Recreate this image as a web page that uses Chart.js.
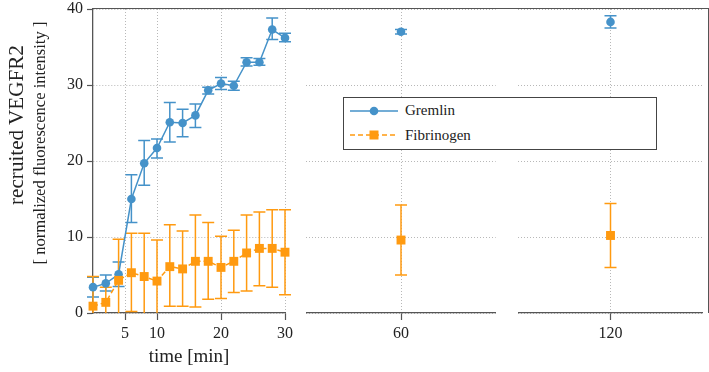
<!DOCTYPE html>
<html>
<head>
<meta charset="utf-8">
<script src="https://cdn.jsdelivr.net/npm/chart.js@4.4.0/dist/chart.umd.min.js"></script>
<style>
  html, body { margin: 0; padding: 0; background: #fff; }
  #wrap { position: relative; width: 709px; height: 372px; overflow: hidden;
          font-family: "Liberation Serif", "DejaVu Serif", serif; color: #222; }
  #wrap canvas { position: absolute; top: 0; }
  #c1 { left: 0; }
  #c2 { left: 300px; }
  #c3 { left: 512px; }
  #frame { position: absolute; left: 93px; top: 8.4px; width: 615.7px; height: 305px; box-sizing: border-box;
           border-top: 1.3px solid #555; border-right: 1.3px solid #555; pointer-events: none; }
  .ylab { position: absolute; white-space: nowrap; line-height: 1.1; transform-origin: center;
          transform: translate(-50%, -50%) rotate(-90deg); }
  #legend { position: absolute; left: 343px; top: 97px; width: 314px; height: 53px; box-sizing: border-box;
            border: 1.3px solid #444; background: #fff; }
  .row { position: absolute; left: 6px; height: 20px; display: flex; align-items: center;
         font-family: "Liberation Serif", serif; font-size: 15px; }
  .row svg { margin-right: 7px; }
</style>
</head>
<body>
<div id="wrap">
  <canvas id="c1" width="300" height="372"></canvas>
  <canvas id="c2" width="202" height="372"></canvas>
  <canvas id="c3" width="197" height="372"></canvas>
  <div id="frame"></div>
  <div class="ylab" id="ylab1" style="left:17px; top:125px; font-size:17px;"></div>
  <div class="ylab" id="ylab2" style="left:40px; top:143px; font-size:16.5px;"></div>
  <div id="legend"></div>
</div>
<script>
// series names and axis labels
const seriesNames = ['Gremlin', 'Fibrinogen'];
const yTitle = ['recruited VEGFR2', '[ normalized fluorescence intensity ]'];
const xTitle = 'time [min]';

// first panel: 0 - 30 min
const timesEarly = [0, 2, 4, 6, 8, 10, 12, 14, 16, 18, 20, 22, 24, 26, 28, 30];
const gremlinMean = [3.4, 3.9, 5.1, 15.0, 19.7, 21.7, 25.1, 25.0, 26.0, 29.3, 30.2, 29.9, 33.0, 33.0, 37.3, 36.2];
const gremlinLow  = [2.1, 2.9, 3.5, 11.9, 16.8, 20.4, 22.5, 23.2, 24.4, 28.8, 29.4, 29.3, 32.5, 32.6, 36.0, 35.7];
const gremlinHigh = [4.7, 5.0, 6.7, 18.2, 22.7, 22.9, 27.7, 26.8, 27.5, 29.7, 31.0, 30.5, 33.6, 33.5, 38.8, 36.8];
const fibMean = [0.9, 1.4, 4.3, 5.3, 4.8, 4.2, 6.1, 5.8, 6.8, 6.8, 6.0, 6.8, 7.9, 8.5, 8.5, 8.0];
const fibLow  = [-3.0, -0.6, -1.1, 0.2, -0.9, -1.2, 0.9, 0.9, 0.8, 1.8, 1.9, 2.7, 2.9, 3.6, 3.4, 2.4];
const fibHigh = [4.8, 3.4, 9.7, 10.5, 10.5, 9.6, 11.6, 10.8, 12.9, 11.9, 10.1, 10.9, 12.9, 13.3, 13.6, 13.6];

// later panels: 60 and 120 min
const timesLate = [60, 120];
const gremlinLateMean = [37.0, 38.3];
const gremlinLateLow  = [36.7, 37.5];
const gremlinLateHigh = [37.3, 39.1];
const fibLateMean = [9.6, 10.2];
const fibLateLow  = [5.0, 6.0];
const fibLateHigh = [14.2, 14.4];

// axis ticks
const yTicks = [0, 10, 20, 30, 40];
const xTicksEarly = [5, 10, 20, 30];

const blue = '#4592c9';
const orange = '#ff9a10';
const gridColor = '#b8b8b8';
const spineColor = '#555';
const font = { family: '"Liberation Serif", "DejaVu Serif", serif', size: 16 };

// draws vertical error bars with caps, using the chart's own scales
const errorBars = {
  id: 'errorBars',
  beforeDatasetsDraw(chart) {
    const { ctx, chartArea, scales } = chart;
    const x = scales.x, y = scales.y;
    ctx.save();
    ctx.beginPath();
    ctx.rect(chartArea.left - 20, chartArea.top, chartArea.width + 40, chartArea.height);
    ctx.clip();
    chart.data.datasets.forEach(ds => {
      if (!ds.errLow) return;
      ctx.strokeStyle = ds.borderColor;
      ctx.lineWidth = 1.5;
      ctx.setLineDash([]);
      ds.data.forEach((p, j) => {
        const px = x.getPixelForValue(p.x);
        const lo = y.getPixelForValue(ds.errLow[j]);
        const hi = y.getPixelForValue(ds.errHigh[j]);
        ctx.beginPath();
        ctx.moveTo(px, lo); ctx.lineTo(px, hi);
        ctx.moveTo(px - 6, lo); ctx.lineTo(px + 6, lo);
        ctx.moveTo(px - 6, hi); ctx.lineTo(px + 6, hi);
        ctx.stroke();
      });
    });
    ctx.restore();
  }
};

function points(times, vals) {
  return times.map((t, i) => ({ x: t, y: vals[i] }));
}

function makeDatasets(times, gm, gl, gh, fm, fl, fh) {
  return [
    {
      label: seriesNames[0], data: points(times, gm), errLow: gl, errHigh: gh,
      borderColor: blue, backgroundColor: blue, borderWidth: 1.5,
      pointStyle: 'circle', pointRadius: 4.3, pointBorderWidth: 0, pointBackgroundColor: blue,
      clip: false, order: 1
    },
    {
      label: seriesNames[1], data: points(times, fm), errLow: fl, errHigh: fh,
      borderColor: orange, backgroundColor: orange, borderWidth: 1.5, borderDash: [5, 3],
      pointStyle: 'rect', pointRadius: 6.3, pointBorderWidth: 0, pointBackgroundColor: orange,
      clip: false, order: 0
    }
  ];
}

function xAxis(min, max, ticks, title) {
  return {
    type: 'linear', min, max,
    afterBuildTicks: s => { s.ticks = ticks.map(v => ({ value: v })); },
    afterFit: s => { s.height = 59; s.paddingLeft = 0; s.paddingRight = 0; },
    ticks: { font, color: '#222', padding: 4, maxRotation: 0 },
    grid: { color: gridColor, lineWidth: 1, tickColor: spineColor, tickLength: 7, tickWidth: 1.2 },
    border: { display: true, color: spineColor, width: 1.3, dash: [1, 2] },
    title: title
      ? { display: true, text: title, font: { ...font, size: 19 }, color: '#222', padding: { top: 0, bottom: 4 } }
      : { display: false }
  };
}

function yAxis(showLabels) {
  return {
    type: 'linear', min: 0, max: 40,
    afterBuildTicks: s => { s.ticks = yTicks.map(v => ({ value: v })); },
    afterFit: s => { s.width = showLabels ? 93 : 0; s.paddingTop = 0; s.paddingBottom = 0; },
    ticks: { display: showLabels, font, color: '#222', padding: 4 },
    grid: { color: gridColor, lineWidth: 1, tickColor: spineColor, tickLength: 6, tickWidth: 1.2, drawTicks: showLabels },
    border: { display: showLabels, color: spineColor, width: 1.3, dash: [1, 2] }
  };
}

function makePanel(id, datasets, x, padding) {
  return new Chart(document.getElementById(id), {
    type: 'line',
    data: { datasets },
    options: {
      responsive: false,
      animation: false,
      layout: { padding },
      scales: { x, y: yAxis(id === 'c1') },
      plugins: { legend: { display: false }, tooltip: { enabled: false } }
    },
    plugins: [errorBars]
  });
}

makePanel('c1',
  makeDatasets(timesEarly, gremlinMean, gremlinLow, gremlinHigh, fibMean, fibLow, fibHigh),
  xAxis(0, 30, xTicksEarly, xTitle),
  { left: 0, top: 9, right: 15, bottom: 0 });

[0, 1].forEach(i => {
  const t = timesLate[i];
  makePanel(i === 0 ? 'c2' : 'c3',
    makeDatasets([t], [gremlinLateMean[i]], [gremlinLateLow[i]], [gremlinLateHigh[i]],
                 [fibLateMean[i]], [fibLateLow[i]], [fibLateHigh[i]]),
    xAxis(t - 15, t + 15, [t], null),
    i === 0 ? { left: 5, top: 9, right: 5, bottom: 0 } : { left: 5, top: 9, right: 1, bottom: 0 });
});

// y axis title, two lines; each line is fitted to the span it has in the figure
function placeVertical(el, text, cx, top, len) {
  el.textContent = text;
  let r = el.getBoundingClientRect();
  const fs = parseFloat(el.style.fontSize) * len / r.height;
  el.style.fontSize = fs + 'px';
  r = el.getBoundingClientRect();
  el.style.top = (parseFloat(el.style.top) + top - r.top) + 'px';
  el.style.left = (parseFloat(el.style.left) + cx - (r.left + r.width / 2)) + 'px';
}
placeVertical(document.getElementById('ylab1'), yTitle[0], 17, 45, 160);
placeVertical(document.getElementById('ylab2'), yTitle[1], 40, 22, 243);

// legend
const legend = document.getElementById('legend');
seriesNames.forEach((name, i) => {
  const row = document.createElement('div');
  row.className = 'row';
  row.style.top = (i === 0 ? 2.7 : 27.4) + 'px';
  const sym = i === 0
    ? `<svg width="48" height="12"><line x1="0" y1="6" x2="48" y2="6" stroke="${blue}" stroke-width="1.5"/><circle cx="24" cy="6" r="4.3" fill="${blue}"/></svg>`
    : `<svg width="48" height="12"><line x1="0" y1="6" x2="48" y2="6" stroke="${orange}" stroke-width="1.5" stroke-dasharray="5 3"/><rect x="19.5" y="1.5" width="9" height="9" fill="${orange}"/></svg>`;
  row.innerHTML = sym + '<span></span>';
  row.querySelector('span').textContent = name;
  legend.appendChild(row);
});
</script>
</body>
</html>
